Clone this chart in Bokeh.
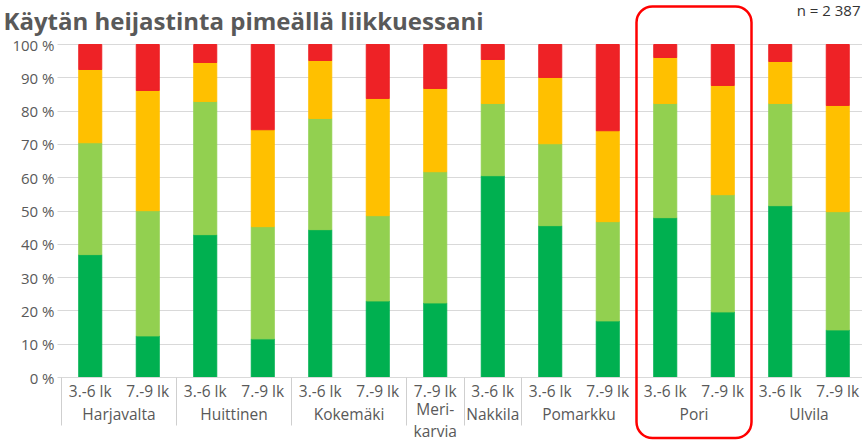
from bokeh.plotting import figure
from bokeh.models import (ColumnDataSource, Range1d, FixedTicker, PrintfTickFormatter,
                          Label, BoxAnnotation, LinearAxis, Grid)
from bokeh.embed import file_html
from bokeh.resources import INLINE

# ---------------- data ----------------
title_text = "Käytän heijastinta pimeällä liikkuessani"
n_text = "n = 2 387"

towns = ["Harjavalta", "Harjavalta", "Huittinen", "Huittinen", "Kokemäki", "Kokemäki",
         "Merikarvia", "Nakkila", "Pomarkku", "Pomarkku", "Pori", "Pori", "Ulvila", "Ulvila"]
town_labels = {"Merikarvia": "Meri-\nkarvia"}
grades = ["3.-6 lk", "7.-9 lk", "3.-6 lk", "7.-9 lk", "3.-6 lk", "7.-9 lk",
          "7.-9 lk", "3.-6 lk", "3.-6 lk", "7.-9 lk", "3.-6 lk", "7.-9 lk", "3.-6 lk", "7.-9 lk"]

series = ["Aina", "Usein", "Joskus", "En koskaan"]
aina = [36.9, 12.5, 42.9, 11.6, 44.4, 23.0, 22.4, 60.6, 45.6, 17.0, 48.0, 19.7, 51.6, 14.3]
usein = [33.6, 37.6, 40.0, 33.7, 33.4, 25.6, 39.4, 21.7, 24.6, 29.8, 34.3, 35.2, 30.7, 35.5]
joskus = [22.0, 36.1, 11.7, 29.1, 17.4, 35.2, 25.0, 13.2, 19.9, 27.3, 13.8, 32.8, 12.6, 31.9]
en_koskaan = [7.5, 13.8, 5.4, 25.6, 4.8, 16.2, 13.2, 4.5, 9.9, 25.9, 3.9, 12.3, 5.1, 18.3]
y_ticks = [0, 10, 20, 30, 40, 50, 60, 70, 80, 90, 100]
highlight_town = "Pori"

colors = ["#00B050", "#92D050", "#FFC000", "#EE2226"]
FONT = "Open Sans"
GRAY = "#595959"
LIGHT = "#d9d9d9"

# ---------------- layout constants (canvas pixels -> data) ----------------
W, H = 862, 440
X0_PX, XUNIT = 61, 57.5          # canvas x of data 0, px per bar slot
Y0_PX, YUNIT = 377, 3.33         # canvas y of 0 %, px per percent
x_start, x_end = -X0_PX / XUNIT, (W - X0_PX) / XUNIT
y_start, y_end = -(H - Y0_PX) / YUNIT, Y0_PX / YUNIT


def yd(canvas_y):
    return (Y0_PX - canvas_y) / YUNIT


def xd(canvas_x):
    return (canvas_x - X0_PX) / XUNIT


# ---------------- figure ----------------
centers = [i + 0.5 for i in range(len(grades))]
src = ColumnDataSource(dict(x=centers, Aina=aina, Usein=usein, Joskus=joskus,
                            **{"En koskaan": en_koskaan}))

p = figure(width=W, height=H, x_range=Range1d(x_start, x_end),
           y_range=Range1d(y_start, y_end),
           output_backend="svg", toolbar_location=None,
           min_border_left=0, min_border_right=0, min_border_top=0, min_border_bottom=0)
p.outline_line_color = None
p.xgrid.grid_line_color = None

# y axis drawn at x = 0 (inside the canvas-wide frame)
ya = p.yaxis[0]
ya.fixed_location = 0
ya.ticker = FixedTicker(ticks=y_ticks, minor_ticks=[])
ya.formatter = PrintfTickFormatter(format="%d %%")
ya.axis_line_color = None
ya.major_tick_line_color = None
ya.minor_tick_line_color = None
ya.major_tick_out = 0
ya.major_tick_in = 0
ya.major_label_text_font = FONT
ya.major_label_text_font_size = "15px"
ya.major_label_text_color = GRAY
ya.major_label_standoff = 7

# horizontal grid lines from the axis rightwards
yg = p.ygrid[0]
if "cross_bounds" in Grid.properties():
    yg.cross_bounds = (xd(57), x_end)
    yg.grid_line_color = LIGHT
    yg.grid_line_width = 1
else:
    yg.grid_line_color = None
    p.segment(x0=[xd(57)] * len(y_ticks), x1=[x_end] * len(y_ticks), y0=y_ticks,
              y1=y_ticks, line_color=LIGHT, line_width=1)

p.vbar_stack(series, x="x", width=0.4, color=colors, source=src)

# x axis 1: axis line + group separators (long ticks at group boundaries)
bounds = [i for i in range(len(towns)) if i == 0 or towns[i] != towns[i - 1]]
xa = p.xaxis[0]
xa.fixed_location = 0
xa.bounds = (0, x_end)
xa.ticker = FixedTicker(ticks=bounds, minor_ticks=[])
xa.major_label_overrides = {b: "" for b in bounds}
xa.major_tick_in = 0
xa.major_tick_out = 48
xa.major_tick_line_color = "#cfcfcf"
xa.minor_tick_line_color = None
xa.axis_line_color = LIGHT

# x axis 2: grade labels under each bar
xa2 = LinearAxis(fixed_location=0, ticker=FixedTicker(ticks=centers, minor_ticks=[]),
                 major_label_overrides={c: g for c, g in zip(centers, grades)},
                 axis_line_color=None, major_tick_line_color=None, minor_tick_line_color=None,
                 major_tick_out=0, major_tick_in=0,
                 major_label_text_font=FONT, major_label_text_font_size="15.5px",
                 major_label_text_color=GRAY, major_label_standoff=2)
p.add_layout(xa2, "below")

# group (town) labels
groups = []
for i, t in enumerate(towns):
    if groups and groups[-1][0] == t:
        groups[-1][2] = i + 1
    else:
        groups.append([t, i, i + 1])
for name, s, e in groups:
    multi = name in town_labels
    p.add_layout(Label(x=(s + e) / 2, y=yd(397) if multi else yd(402.5),
                       text=town_labels.get(name, name),
                       text_align="center", text_baseline="top",
                       text_font=FONT, text_font_size="15.5px", text_color=GRAY,
                       text_line_height=1.0))

# highlight box around the chosen town
hl = [i for i, t in enumerate(towns) if t == highlight_town]
p.add_layout(BoxAnnotation(left=hl[0], right=hl[-1] + 1, top=yd(6), bottom=yd(437.5),
                           fill_color=None, fill_alpha=0, line_color="#FF0000",
                           line_alpha=1.0, line_width=2.5, border_radius=16))

# title and n
p.add_layout(Label(x=xd(3), y=yd(20), text=title_text, text_align="left",
                   text_baseline="alphabetic", text_font=FONT, text_font_size="24px",
                   text_font_style="bold", text_color=GRAY))
p.add_layout(Label(x=xd(860), y=yd(9.5), text=n_text, text_align="right",
                   text_baseline="middle", text_font=FONT, text_font_size="15px",
                   text_color="#333333"))

open("out.html", "w").write(file_html(p, INLINE))
